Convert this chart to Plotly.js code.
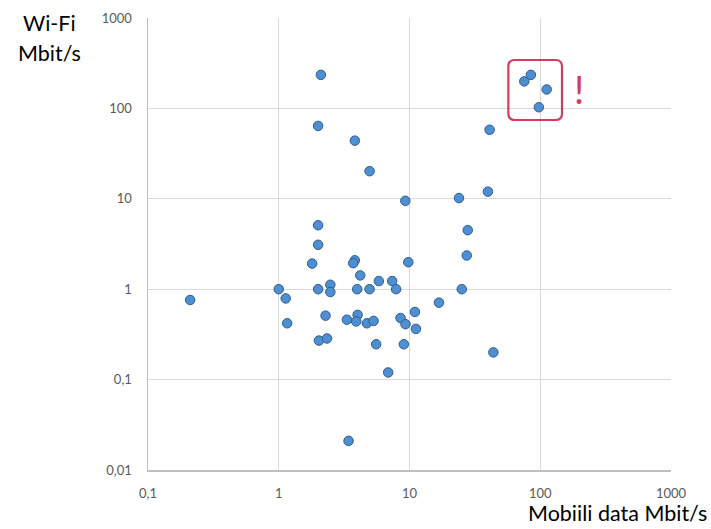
<!DOCTYPE html>
<html>
<head>
<meta charset="utf-8">
<script src="https://cdn.plot.ly/plotly-3.0.1.min.js"></script>
<style>html,body{margin:0;padding:0;background:#fff;}#chart{width:711px;height:529px;}</style>
</head>
<body>
<div id="chart"></div>
<script>
// Mobile data speed (Mbit/s) per measurement
const mobileMbit = [0.21, 1.0, 1.13, 1.16, 1.8, 2.0, 2.0, 2.0, 2.0, 2.1,
  2.48, 2.48, 2.28, 2.03, 2.34, 3.42, 3.82, 3.71, 3.82, 4.2,
  3.98, 4.01, 3.32, 3.91, 4.95, 4.95, 4.72, 5.31, 5.56, 5.83,
  7.37, 7.9, 6.87, 8.54, 9.32, 9.05, 9.29, 9.79, 11.0, 11.2,
  16.8, 23.9, 25.1, 27.4, 27.9, 39.8, 41, 43.8, 75.5, 84.8,
  112, 97.6];
// Wi-Fi speed (Mbit/s) per measurement
const wifiMbit = [0.76, 1.0, 0.79, 0.42, 1.92, 1.0, 3.1, 5.1, 64, 235,
  1.12, 0.93, 0.51, 0.27, 0.285, 0.021, 2.09, 1.94, 44, 1.42,
  1.0, 0.52, 0.46, 0.44, 20.2, 1.0, 0.42, 0.446, 0.246, 1.23,
  1.23, 1.0, 0.12, 0.48, 0.41, 0.246, 9.5, 1.99, 0.56, 0.364,
  0.71, 10.2, 1.0, 2.36, 4.5, 12.0, 58, 0.2, 199, 235,
  162, 103];

const xTickVals = [0.1, 1, 10, 100, 1000];
const xTickText = ['0,1', '1', '10', '100', '1000'];
const yTickVals = [0.01, 0.1, 1, 10, 100, 1000];
const yTickText = ['0,01', '0,1', '1', '10', '100', '1000'];

const xTitle = 'Mobiili data Mbit/s';
const yTitleLines = ['Wi-Fi', 'Mbit/s'];
const noteText = '!';

const F = 'Lato, "Open Sans", sans-serif';
const red = '#d33b63';

// rounded highlight box (paper coords, yb = bottom, yt = top)
function roundRect(x0, yb, x1, yt, rx, ry) {
  return `M ${x0+rx} ${yb} L ${x1-rx} ${yb} Q ${x1} ${yb} ${x1} ${yb+ry} ` +
         `L ${x1} ${yt-ry} Q ${x1} ${yt} ${x1-rx} ${yt} L ${x0+rx} ${yt} ` +
         `Q ${x0} ${yt} ${x0} ${yt-ry} L ${x0} ${yb+ry} Q ${x0} ${yb} ${x0+rx} ${yb} Z`;
}

const trace = {
  x: mobileMbit, y: wifiMbit, type: 'scatter', mode: 'markers',
  marker: {size: 9.5, color: '#4e8fd1', line: {color: '#2f5c92', width: 1}},
  hoverinfo: 'x+y'
};

const layout = {
  width: 711, height: 529,
  margin: {l: 148, r: 40, t: 18, b: 59},
  paper_bgcolor: '#fff', plot_bgcolor: '#fff',
  showlegend: false,
  font: {family: F, color: '#595959', size: 13},
  xaxis: {
    type: 'log', range: [-1, 3], tickvals: xTickVals, ticktext: xTickText,
    showgrid: true, gridcolor: '#d9d9d9', gridwidth: 1,
    showline: true, linecolor: '#bfbfbf', linewidth: 1.5,
    ticks: 'outside', ticklen: 11, tickcolor: 'rgba(0,0,0,0)',
    zeroline: false, tickfont: {family: F, size: 13, color: '#595959'}
  },
  yaxis: {
    type: 'log', range: [-2, 3], tickvals: yTickVals, ticktext: yTickText,
    showgrid: true, gridcolor: '#d9d9d9', gridwidth: 1,
    showline: true, linecolor: '#bfbfbf', linewidth: 1.5,
    ticks: 'outside', ticklen: 12, tickcolor: 'rgba(0,0,0,0)',
    zeroline: false, tickfont: {family: F, size: 13, color: '#595959'}
  },
  shapes: [{
    type: 'path', xref: 'paper', yref: 'paper',
    path: roundRect(0.689, 0.7743, 0.7916, 0.9071, 0.0125, 0.0145),
    line: {color: red, width: 2.2}
  }],
  annotations: [
    {text: yTitleLines[0], xref: 'paper', yref: 'paper', x: -0.188, y: 1.0, xanchor: 'center', yanchor: 'middle',
     yshift: -5, showarrow: false, font: {family: F, size: 21.5, color: '#000'}},
    {text: yTitleLines[1], xref: 'paper', yref: 'paper', x: -0.188, y: 1.0, xanchor: 'center', yanchor: 'middle',
     yshift: -35, showarrow: false, font: {family: F, size: 21.5, color: '#000'}},
    {text: xTitle, xref: 'paper', yref: 'paper', x: 1.072, y: 0, xanchor: 'right', yanchor: 'middle',
     yshift: -43, showarrow: false, font: {family: F, size: 21.5, color: '#000'}},
    {text: noteText, xref: 'paper', yref: 'paper', x: 0.8235, y: 0.843, xanchor: 'center', yanchor: 'middle',
     showarrow: false, font: {family: F, size: 38, color: red}}
  ]
};

Plotly.newPlot('chart', [trace], layout, {staticPlot: true, displayModeBar: false});
</script>
</body>
</html>
